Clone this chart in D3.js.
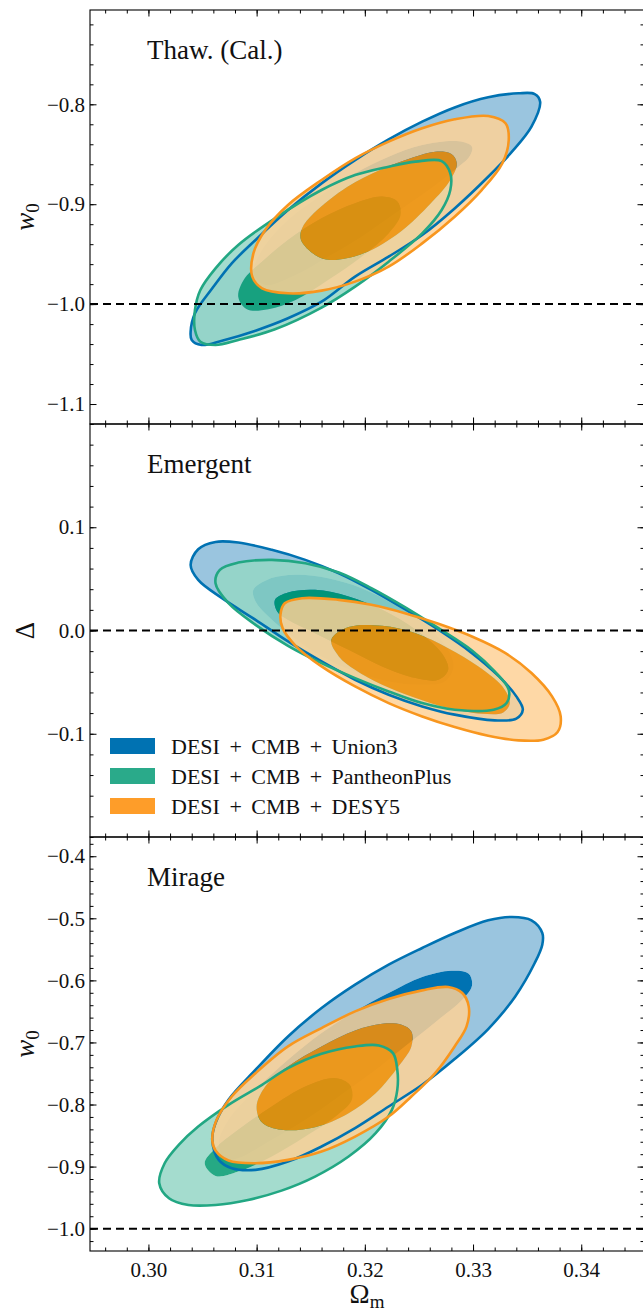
<!DOCTYPE html>
<html>
<head>
<meta charset="utf-8">
<script src="https://cdn.jsdelivr.net/npm/d3@7"></script>
<style>
  body { margin: 0; background: #fff; }
  svg { display: block; font-family: 'Liberation Serif', 'DejaVu Serif', serif; }
  svg text { font-family: 'Liberation Serif', 'DejaVu Serif', serif; fill: #111; }
  .axis line { stroke: #000; }
</style>
</head>
<body>
<svg id="chart" width="643" height="1315"></svg>
<script>
// DATA (Omega_m on x, panel parameter on y)
const xDomain = [0.2946, 0.3458];
const xTicks = [0.30, 0.31, 0.32, 0.33, 0.34];

const thawDomain = [-1.12, -0.7056];
const thawTicks = [-1.1, -1.0, -0.9, -0.8];
const emDomain = [-0.2, 0.2];
const emTicks = [-0.1, 0.0, 0.1];
const mirDomain = [-1.036, -0.369];
const mirTicks = [-1.0, -0.9, -0.8, -0.7, -0.6, -0.5, -0.4];

const seriesNames = ['DESI + CMB + Union3', 'DESI + CMB + PantheonPlus', 'DESI + CMB + DESY5'];

// thawing (calibrated): 95% and 68% contours
const thawUnion3Outer = [[0.3362,-0.7974],[0.3354,-0.8224],[0.3336,-0.8474],[0.3314,-0.8725],[0.3283,-0.9042],[0.3253,-0.9308],[0.3222,-0.9525],[0.3191,-0.9725],[0.3160,-0.9976],[0.3129,-1.0142],[0.3099,-1.0266],[0.3068,-1.0366],[0.3049,-1.0409],[0.3040,-1.0359],[0.3039,-1.0276],[0.3043,-1.0092],[0.3059,-0.9842],[0.3077,-0.9592],[0.3099,-0.9358],[0.3129,-0.9058],[0.3160,-0.8791],[0.3191,-0.8558],[0.3222,-0.8351],[0.3253,-0.8174],[0.3283,-0.8031],[0.3314,-0.7930],[0.3342,-0.7890],[0.3357,-0.7897]];
const thawUnion3Inner = [[0.3299,-0.8424],[0.3287,-0.8371],[0.3253,-0.8407],[0.3222,-0.8524],[0.3191,-0.8691],[0.3160,-0.8908],[0.3129,-0.9158],[0.3105,-0.9458],[0.3097,-0.9692],[0.3108,-0.9809],[0.3136,-0.9709],[0.3166,-0.9525],[0.3197,-0.9325],[0.3228,-0.9091],[0.3259,-0.8858],[0.3283,-0.8657],[0.3297,-0.8517]];
const thawPantheonOuter = [[0.3271,-0.8568],[0.3279,-0.8691],[0.3279,-0.8858],[0.3271,-0.9058],[0.3253,-0.9292],[0.3222,-0.9575],[0.3191,-0.9825],[0.3160,-1.0035],[0.3117,-1.0252],[0.3083,-1.0359],[0.3062,-1.0409],[0.3048,-1.0376],[0.3043,-1.0259],[0.3043,-1.0059],[0.3048,-0.9859],[0.3062,-0.9642],[0.3083,-0.9408],[0.3117,-0.9141],[0.3160,-0.8858],[0.3191,-0.8708],[0.3222,-0.8624],[0.3247,-0.8574]];
const thawPantheonInner = [[0.3083,-0.9926],[0.3089,-0.9742],[0.3105,-0.9576],[0.3129,-0.9358],[0.3160,-0.9141],[0.3191,-0.8991],[0.3216,-0.8924],[0.3230,-0.8974],[0.3233,-0.9108],[0.3222,-0.9292],[0.3197,-0.9525],[0.3166,-0.9759],[0.3136,-0.9959],[0.3111,-1.0052],[0.3091,-1.0052]];
const thawDesy5Outer = [[0.3096,-0.9725],[0.3105,-0.9842],[0.3129,-0.9892],[0.3160,-0.9865],[0.3191,-0.9775],[0.3222,-0.9625],[0.3253,-0.9392],[0.3283,-0.9125],[0.3308,-0.8858],[0.3327,-0.8591],[0.3333,-0.8357],[0.3330,-0.8190],[0.3314,-0.8117],[0.3283,-0.8150],[0.3253,-0.8240],[0.3222,-0.8374],[0.3191,-0.8541],[0.3160,-0.8758],[0.3129,-0.9008],[0.3108,-0.9258],[0.3097,-0.9492]];
const thawDesy5Inner = [[0.3141,-0.9358],[0.3154,-0.9508],[0.3168,-0.9558],[0.3199,-0.9492],[0.3233,-0.9275],[0.3261,-0.8991],[0.3279,-0.8758],[0.3285,-0.8591],[0.3280,-0.8497],[0.3265,-0.8474],[0.3245,-0.8531],[0.3214,-0.8657],[0.3184,-0.8824],[0.3153,-0.9088],[0.3142,-0.9241]];

// emergent
const emUnion3Outer = [[0.3039,0.0635],[0.3046,0.0787],[0.3062,0.0858],[0.3083,0.0852],[0.3114,0.0781],[0.3145,0.0684],[0.3176,0.0555],[0.3206,0.0394],[0.3237,0.0206],[0.3268,0.0007],[0.3299,-0.0219],[0.3324,-0.0445],[0.3340,-0.0638],[0.3346,-0.0767],[0.3340,-0.0854],[0.3320,-0.0870],[0.3283,-0.0815],[0.3253,-0.0735],[0.3222,-0.0622],[0.3191,-0.0477],[0.3160,-0.0300],[0.3129,-0.0106],[0.3099,0.0103],[0.3068,0.0313],[0.3046,0.0490]];
const emUnion3Inner = [[0.3097,0.0394],[0.3111,0.0497],[0.3136,0.0539],[0.3166,0.0506],[0.3197,0.0410],[0.3228,0.0248],[0.3256,0.0055],[0.3276,-0.0171],[0.3282,-0.0348],[0.3274,-0.0493],[0.3253,-0.0525],[0.3222,-0.0493],[0.3191,-0.0396],[0.3160,-0.0251],[0.3133,-0.0057],[0.3111,0.0135],[0.3099,0.0281]];
const emPantheonOuter = [[0.3062,0.0458],[0.3066,0.0587],[0.3083,0.0658],[0.3114,0.0684],[0.3145,0.0652],[0.3176,0.0561],[0.3206,0.0410],[0.3237,0.0226],[0.3268,0.0023],[0.3299,-0.0193],[0.3320,-0.0396],[0.3333,-0.0574],[0.3331,-0.0702],[0.3319,-0.0767],[0.3283,-0.0767],[0.3253,-0.0703],[0.3222,-0.0590],[0.3191,-0.0461],[0.3160,-0.0316],[0.3129,-0.0148],[0.3099,0.0055],[0.3074,0.0265]];
const emPantheonInner = [[0.3117,0.0297],[0.3129,0.0368],[0.3154,0.0394],[0.3185,0.0329],[0.3216,0.0200],[0.3247,0.0007],[0.3271,-0.0219],[0.3277,-0.0380],[0.3268,-0.0477],[0.3247,-0.0461],[0.3216,-0.0348],[0.3185,-0.0187],[0.3154,-0.0026],[0.3129,0.0103],[0.3119,0.0184]];
const emDesy5Outer = [[0.3122,0.0152],[0.3126,0.0264],[0.3142,0.0313],[0.3176,0.0297],[0.3206,0.0249],[0.3237,0.0168],[0.3268,0.0065],[0.3299,-0.0058],[0.3330,-0.0219],[0.3354,-0.0412],[0.3373,-0.0638],[0.3381,-0.0831],[0.3378,-0.0986],[0.3365,-0.1057],[0.3342,-0.1064],[0.3314,-0.1019],[0.3283,-0.0935],[0.3253,-0.0832],[0.3222,-0.0703],[0.3191,-0.0542],[0.3160,-0.0348],[0.3136,-0.0148],[0.3124,0.0023]];
const emDesy5Inner = [[0.3169,-0.0090],[0.3185,0.0033],[0.3216,0.0045],[0.3247,-0.0026],[0.3277,-0.0171],[0.3305,-0.0348],[0.3327,-0.0541],[0.3334,-0.0702],[0.3328,-0.0793],[0.3308,-0.0806],[0.3277,-0.0751],[0.3247,-0.0654],[0.3216,-0.0525],[0.3191,-0.0380],[0.3176,-0.0251]];

// mirage
const mirUnion3Outer = [[0.3364,-0.5236],[0.3354,-0.5032],[0.3336,-0.4978],[0.3314,-0.5032],[0.3283,-0.5236],[0.3253,-0.5478],[0.3222,-0.5747],[0.3191,-0.6069],[0.3160,-0.6446],[0.3129,-0.6903],[0.3099,-0.7440],[0.3074,-0.7924],[0.3062,-0.8300],[0.3059,-0.8569],[0.3065,-0.8892],[0.3077,-0.9026],[0.3099,-0.9053],[0.3129,-0.8919],[0.3160,-0.8677],[0.3191,-0.8381],[0.3222,-0.8032],[0.3253,-0.7682],[0.3283,-0.7268],[0.3314,-0.6784],[0.3339,-0.6258],[0.3357,-0.5720],[0.3364,-0.5424]];
const mirUnion3Inner = [[0.3299,-0.6085],[0.3296,-0.5892],[0.3280,-0.5844],[0.3253,-0.5946],[0.3222,-0.6204],[0.3191,-0.6499],[0.3160,-0.6849],[0.3129,-0.7279],[0.3099,-0.7763],[0.3074,-0.8247],[0.3065,-0.8623],[0.3071,-0.8881],[0.3083,-0.8865],[0.3114,-0.8569],[0.3145,-0.8247],[0.3176,-0.7870],[0.3206,-0.7494],[0.3237,-0.7064],[0.3268,-0.6634],[0.3290,-0.6311]];
const mirPantheonOuter = [[0.3010,-0.9268],[0.3015,-0.8946],[0.3028,-0.8650],[0.3046,-0.8355],[0.3074,-0.8005],[0.3105,-0.7683],[0.3129,-0.7414],[0.3160,-0.7182],[0.3191,-0.7064],[0.3213,-0.7048],[0.3226,-0.7172],[0.3230,-0.7440],[0.3230,-0.7763],[0.3225,-0.8086],[0.3210,-0.8462],[0.3185,-0.8838],[0.3154,-0.9161],[0.3123,-0.9387],[0.3092,-0.9537],[0.3062,-0.9618],[0.3037,-0.9618],[0.3019,-0.9510]];
const mirPantheonInner = [[0.3052,-0.8946],[0.3062,-0.8704],[0.3083,-0.8408],[0.3114,-0.8032],[0.3145,-0.7709],[0.3173,-0.7575],[0.3186,-0.7682],[0.3188,-0.7924],[0.3173,-0.8193],[0.3145,-0.8516],[0.3114,-0.8838],[0.3083,-0.9080],[0.3062,-0.9150]];
const mirDesy5Outer = [[0.3059,-0.8569],[0.3063,-0.8247],[0.3077,-0.7871],[0.3099,-0.7495],[0.3129,-0.7064],[0.3160,-0.6769],[0.3191,-0.6500],[0.3222,-0.6301],[0.3253,-0.6161],[0.3277,-0.6107],[0.3290,-0.6204],[0.3296,-0.6419],[0.3294,-0.6742],[0.3283,-0.7064],[0.3265,-0.7495],[0.3243,-0.7871],[0.3222,-0.8194],[0.3191,-0.8516],[0.3160,-0.8758],[0.3129,-0.8892],[0.3099,-0.8946],[0.3074,-0.8903],[0.3062,-0.8742]];
const mirDesy5Inner = [[0.3243,-0.6822],[0.3234,-0.6715],[0.3216,-0.6698],[0.3191,-0.6806],[0.3160,-0.7064],[0.3129,-0.7387],[0.3108,-0.7709],[0.3100,-0.8032],[0.3105,-0.8290],[0.3123,-0.8408],[0.3154,-0.8365],[0.3185,-0.8139],[0.3210,-0.7817],[0.3231,-0.7387],[0.3243,-0.7064]];

// STYLES
const serif = "'Liberation Serif', 'DejaVu Serif', serif";
const styles = [
  { line: '#0072b2', outer: '#9ac5df', inner: '#0072b2', opacity: 1, patch: '#0072b2' },
  { line: '#22a783', outer: '#94d6c5', inner: '#009a6e', opacity: 0.85, patch: '#2aaa8a' },
  { line: '#f8961e', outer: '#fed196', inner: '#fe8f00', opacity: 0.85, patch: '#fe9d29' }
];

const panels = [
  { title: 'Thaw. (Cal.)', top: 10, bottom: 424, domain: thawDomain, ticks: thawTicks, label: 'w', ref: -1,
    sets: [[thawUnion3Outer, thawUnion3Inner], [thawPantheonOuter, thawPantheonInner], [thawDesy5Outer, thawDesy5Inner]] },
  { title: 'Emergent', top: 424, bottom: 837, domain: emDomain, ticks: emTicks, label: 'Δ', ref: 0,
    sets: [[emUnion3Outer, emUnion3Inner], [emPantheonOuter, emPantheonInner], [emDesy5Outer, emDesy5Inner]] },
  { title: 'Mirage', top: 837, bottom: 1251, domain: mirDomain, ticks: mirTicks, label: 'w', ref: -1,
    sets: [[mirUnion3Outer, mirUnion3Inner], [mirPantheonOuter, mirPantheonInner], [mirDesy5Outer, mirDesy5Inner]] }
];

// SETUP
const svg = d3.select('#chart');
const left = 90, right = 644;
const x = d3.scaleLinear().domain(xDomain).range([left, right]);

function steps(domain, step) {
  const lo = Math.ceil(domain[0] / step - 1e-9), hi = Math.floor(domain[1] / step + 1e-9);
  return d3.range(lo, hi + 1).map(k => +(k * step).toFixed(4));
}

function addAxis(axisFn, scale, tr, values, size, fmt, pad) {
  const a = svg.append('g')
    .attr('class', 'axis')
    .attr('transform', tr)
    .call(axisFn(scale).tickValues(values).tickSizeInner(-size).tickSizeOuter(0)
      .tickPadding(pad || 0).tickFormat(fmt || (() => '')));
  a.select('.domain').remove();
  a.attr('font-family', serif).attr('font-size', 21);
  a.selectAll('text').style('font-family', serif).style('font-size', '21px');
  return a;
}

// DRAW PANELS
panels.forEach((p, i) => {
  const y = d3.scaleLinear().domain(p.domain).range([p.bottom, p.top]);
  const line = d3.line()
    .x(d => x(d[0]))
    .y(d => y(d[1]))
    .curve(d3.curveCatmullRomClosed.alpha(0.5));

  svg.append('clipPath').attr('id', 'clip' + i)
    .append('rect')
    .attr('x', left).attr('y', p.top)
    .attr('width', right - left).attr('height', p.bottom - p.top);

  const plot = svg.append('g').attr('clip-path', 'url(#clip' + i + ')');

  // filled bands: outer ring then inner core
  p.sets.forEach((s, k) => {
    plot.append('path')
      .attr('d', line(s[0]) + line(s[1]))
      .attr('fill-rule', 'evenodd')
      .attr('fill', styles[k].outer)
      .attr('fill-opacity', styles[k].opacity);
    plot.append('path')
      .attr('d', line(s[1]))
      .attr('fill', styles[k].inner)
      .attr('fill-opacity', styles[k].opacity);
  });

  // outer contour lines
  p.sets.forEach((s, k) => {
    plot.append('path')
      .attr('d', line(s[0]))
      .attr('fill', 'none')
      .attr('stroke', styles[k].line)
      .attr('stroke-width', 2.6);
  });

  // reference line
  plot.append('line')
    .attr('x1', left).attr('x2', right)
    .attr('y1', y(p.ref)).attr('y2', y(p.ref))
    .attr('stroke', '#000')
    .attr('stroke-width', 2)
    .attr('stroke-dasharray', '8,5');

  // AXES (ticks inward on all sides)
  const fmtY = d3.format('.1f');
  const minorY = steps(p.domain, 0.02);
  const minorX = steps(xDomain, 0.002);
  addAxis(d3.axisLeft, y, 'translate(' + left + ',0)', p.ticks, 6.5, fmtY, 5);
  addAxis(d3.axisLeft, y, 'translate(' + left + ',0)', minorY, 3.5);
  addAxis(d3.axisRight, y, 'translate(' + right + ',0)', p.ticks, 6.5);
  addAxis(d3.axisRight, y, 'translate(' + right + ',0)', minorY, 3.5);
  addAxis(d3.axisTop, x, 'translate(0,' + p.top + ')', xTicks, 6.5);
  addAxis(d3.axisTop, x, 'translate(0,' + p.top + ')', minorX, 3.5);
  const last = i === panels.length - 1;
  addAxis(d3.axisBottom, x, 'translate(0,' + p.bottom + ')', xTicks, 6.5, last ? d3.format('.2f') : null, 11);
  addAxis(d3.axisBottom, x, 'translate(0,' + p.bottom + ')', minorX, 3.5);

  // frame
  svg.append('rect')
    .attr('x', left).attr('y', p.top)
    .attr('width', right - left).attr('height', p.bottom - p.top)
    .attr('fill', 'none')
    .attr('stroke', '#000')
    .attr('stroke-width', 1.1);

  // panel title
  svg.append('text')
    .attr('x', 147)
    .attr('y', p.top + 49)
    .attr('font-size', 27)
    .text(p.title);

  // Y AXIS LABEL
  const yl = svg.append('text')
    .attr('transform', 'translate(34,' + ((p.top + p.bottom) / 2) + ') rotate(-90)')
    .attr('text-anchor', 'middle')
    .attr('font-size', 27);
  if (p.label === 'w') {
    yl.append('tspan').attr('font-style', 'italic').text('w');
    yl.append('tspan').attr('font-size', 19).attr('dy', 5).text('0');
  } else {
    yl.text(p.label);
  }
});

// X AXIS LABEL
const xl = svg.append('text')
  .attr('x', 367)
  .attr('y', 1303)
  .attr('text-anchor', 'middle')
  .attr('font-size', 27);
xl.append('tspan').text('Ω');
xl.append('tspan').attr('font-size', 19).attr('dy', 5).text('m');

// LEGEND
const legend = svg.append('g').attr('transform', 'translate(110,738)');
seriesNames.forEach((name, k) => {
  legend.append('rect')
    .attr('x', 0).attr('y', k * 30)
    .attr('width', 45).attr('height', 16)
    .attr('fill', styles[k].patch);
  legend.append('text')
    .attr('x', 61).attr('y', k * 30 + 15.5)
    .attr('font-size', 22)
    .attr('word-spacing', 4)
    .text(name);
});
</script>
</body>
</html>
